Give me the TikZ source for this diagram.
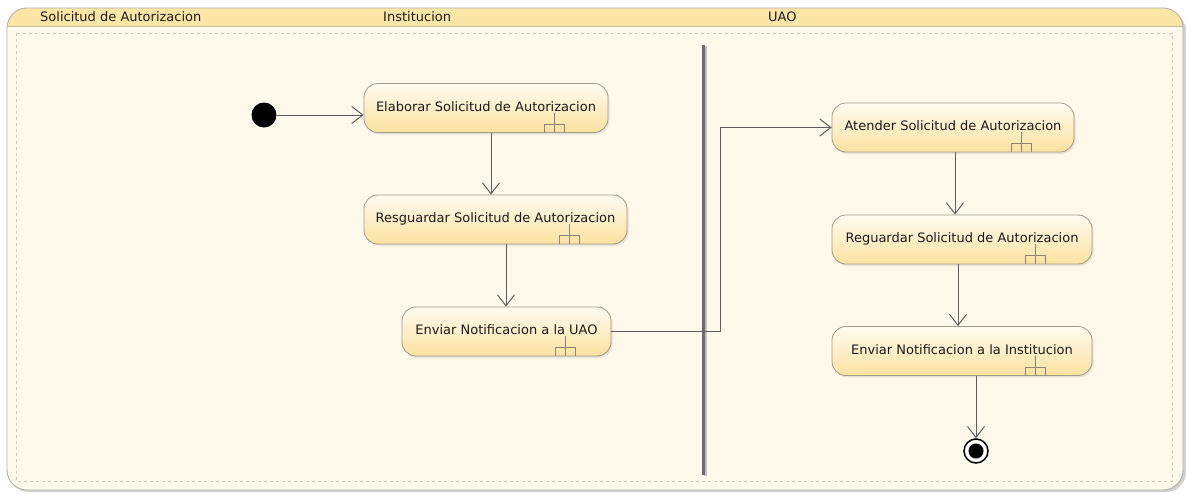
\documentclass[tikz,border=0pt]{standalone}
\usepackage{fontspec}
\setmainfont{DejaVu Sans}
\usetikzlibrary{arrows.meta,shadows,calc}

\definecolor{cream}{HTML}{FEF9EA}
\definecolor{hdrfill}{HTML}{FCE6A6}
\definecolor{hdrline}{HTML}{C8BC98}
\definecolor{framecol}{HTML}{B4B0A8}
\definecolor{dashcol}{HTML}{D2CCC0}
\definecolor{actline}{HTML}{A09A88}
\definecolor{acttop}{HTML}{FFFBF0}
\definecolor{actbot}{HTML}{FCE2A0}
\definecolor{flowcol}{HTML}{5E5E5E}
\definecolor{rakecol}{HTML}{8C8474}
\definecolor{txtcol}{HTML}{1A1A1A}

\tikzset{
  lbl/.style={font=\fontsize{13}{15}\selectfont, text=txtcol},
  action/.style={lbl, draw=actline, line width=0.8pt, rounded corners=14pt,
    top color=acttop, bottom color=actbot, minimum height=49pt,
    inner sep=0pt, drop shadow={opacity=0.18, shadow xshift=1.5pt, shadow yshift=-2pt}},
  flow/.style={draw=flowcol, line width=1pt,
    -{Straight Barb[length=11pt, width=17pt, line width=1pt]}},
  rake/.pic={\draw[rakecol, line width=0.8pt]
    (0,-20) -- (0,0) (-10,0) -- (-10,-9) -- (10,-9) -- (10,0);},
}
\newcommand{\rakeon}[1]{\pic at ($(#1.south west)!0.78!(#1.south east)$) {rake};}
\newcommand{\raisedtext}[1]{\raisebox{3.5pt}{#1}}

\begin{document}
\begin{tikzpicture}[x=1pt, y=-1pt]
\useasboundingbox (0,0) rectangle (1186,493);

% partition frame with its header band
\fill[black!18, rounded corners=20pt] (9,11) rectangle (1186,492);
\fill[cream, rounded corners=20pt] (7,8) rectangle (1183,490);
\begin{scope}
  \clip[rounded corners=20pt] (7,8) rectangle (1183,490);
  \fill[hdrfill] (7,8) rectangle (1183,26);
\end{scope}
\draw[hdrline, line width=0.8pt] (7,26) -- (1183,26);
\draw[framecol, line width=0.9pt, rounded corners=20pt] (7,8) rectangle (1183,490);
\draw[dashcol, line width=0.7pt, dash pattern=on 3pt off 3pt] (16,33) rectangle (1172,481);

% header labels
\node[lbl, anchor=west, inner sep=0pt] (hA) at (40,16.5) {Solicitud de Autorizacion};
\node[lbl, anchor=west, inner sep=0pt] (hB) at (383,16.5) {Institucion};
\node[lbl, anchor=west, inner sep=0pt] (hC) at (768,16.5) {UAO};

% swimlane divider
\draw[black!25, line width=3pt] (705.5,46) -- (705.5,476);
\draw[black!58, line width=3pt] (703,45) -- (703,475);

% actions
\node[action, minimum width=244pt] (elab) at (486,108) {\raisedtext{Elaborar Solicitud de Autorizacion}};
\node[action, minimum width=263pt] (resg) at (495.5,219.5) {\raisedtext{Resguardar Solicitud de Autorizacion}};
\node[action, minimum width=209pt] (envu) at (506.5,331.5) {\raisedtext{Enviar Notificacion a la UAO}};
\node[action, minimum width=242pt] (aten) at (953,127.5) {\raisedtext{Atender Solicitud de Autorizacion}};
\node[action, minimum width=260pt] (regu) at (962,239.5) {\raisedtext{Reguardar Solicitud de Autorizacion}};
\node[action, minimum width=260pt] (envi) at (962,351) {\raisedtext{Enviar Notificacion a la Institucion}};

\foreach \n in {elab,resg,envu,aten,regu,envi} {\rakeon{\n}}

% initial and final nodes
\node[circle, fill=black, minimum size=25pt, inner sep=0pt] (start) at (264,115) {};
\node[circle, draw=black, line width=1.5pt, fill=white, minimum size=24pt, inner sep=0pt] (stop) at (976,451) {};
\node[circle, fill=black, minimum size=15pt, inner sep=0pt] (stopdot) at (stop) {};

% flows
\coordinate (xa) at (491,0);
\coordinate (xb) at (506,0);
\coordinate (xc) at (955,0);
\coordinate (xd) at (958,0);
\coordinate (xe) at (976,0);
\coordinate (bend) at (720,0);
\draw[flow] (start) -- (start -| elab.west);
\draw[flow] (elab.south -| xa) -- (resg.north -| xa);
\draw[flow] (resg.south -| xb) -- (envu.north -| xb);
\draw[flow] (envu.east) -- (envu.east -| bend) |- (aten.west);
\draw[flow] (aten.south -| xc) -- (regu.north -| xc);
\draw[flow] (regu.south -| xd) -- (envi.north -| xd);
\draw[flow] (envi.south -| xe) -- (stop.north);
\end{tikzpicture}
\end{document}
